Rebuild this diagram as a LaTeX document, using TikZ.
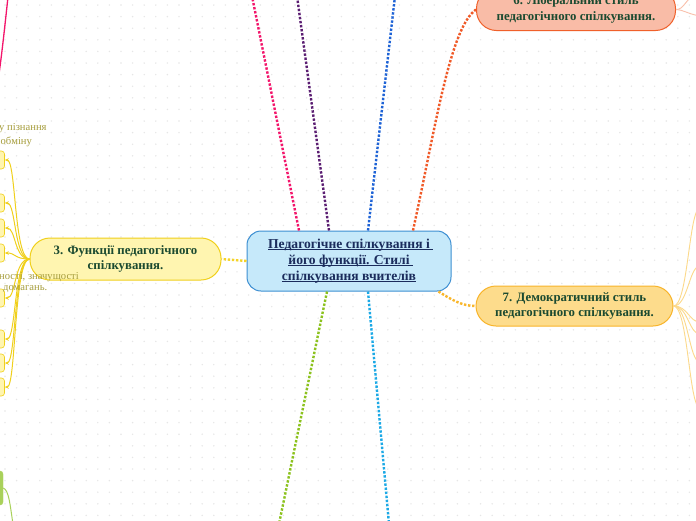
\documentclass[tikz,border=0pt]{standalone}
\usepackage{fontspec}
\setmainfont{Liberation Serif}
\usetikzlibrary{arrows.meta}
\newlength\myulw
\newcommand\myul[1]{\settowidth{\myulw}{#1}\rlap{\rule[-1.9pt]{\myulw}{0.9pt}}#1}
\definecolor{dotc}{HTML}{E6E6E6}
\definecolor{cFill}{HTML}{C6E9FA}
\definecolor{cBorder}{HTML}{3D8FD2}
\definecolor{cText}{HTML}{1B2C5C}
\definecolor{nText}{HTML}{1B4A30}
\definecolor{yFill}{HTML}{FFF5B0}
\definecolor{yBorder}{HTML}{F0D01C}
\definecolor{oFill}{HTML}{FDDC8C}
\definecolor{oBorder}{HTML}{F8B42A}
\definecolor{sFill}{HTML}{F9BCA7}
\definecolor{sBorder}{HTML}{F0602A}
\definecolor{cPink}{HTML}{F3156B}
\definecolor{cPurple}{HTML}{5B1E72}
\definecolor{cBlue}{HTML}{1E63D6}
\definecolor{cOrange}{HTML}{F05A28}
\definecolor{cYellow}{HTML}{F5D327}
\definecolor{cGold}{HTML}{F9B62A}
\definecolor{cGreen}{HTML}{8CC21E}
\definecolor{cLBlue}{HTML}{1CA9E6}
\definecolor{gFill}{HTML}{A9D15B}
\definecolor{lblc}{HTML}{A69D3C}
\definecolor{fanO}{HTML}{FCD98A}
\definecolor{fanS}{HTML}{F9C0AB}
\tikzset{
  mainbox/.style={draw=cBorder, fill=cFill, line width=1pt, rounded corners=14pt,
    minimum width=204pt, minimum height=60pt, inner sep=0pt, align=center,
    text=cText, font=\bfseries\fontsize{13.6}{16}\selectfont},
  topicbox/.style={line width=1pt, rounded corners=20pt, inner sep=0pt, align=center,
    text=nText, font=\bfseries\fontsize{12.8}{15.5}\selectfont},
  stubbox/.style={draw=yBorder, fill=yFill, line width=0.6pt, rounded corners=3pt,
    minimum width=17pt, minimum height=18pt, inner sep=0pt},
  dotline/.style={line width=2.4pt, dash pattern=on 2.4pt off 1.7pt},
  fanline/.style={draw=yBorder, line width=1pt, -{Stealth[length=4pt,width=3.5pt]}},
  lbl/.style={text=lblc, font=\fontsize{10.6}{12}\selectfont, inner sep=0pt, anchor=west},
}
\begin{document}
\begin{tikzpicture}[x=1pt,y=-1pt]
\useasboundingbox (0,0) rectangle (696,520);
\clip (0,0) rectangle (696,520);
\fill[white] (0,0) rectangle (696,520);
\foreach \i in {0,...,60}{\foreach \j in {0,...,45}{
  \fill[dotc] (5+11.6*\i, 5+11.6*\j) circle[radius=0.8pt];}}

% main nodes
\node[mainbox] (c) at (349,261) {\myul{Педагогічне спілкування і\ }\\ \myul{його функції. Стилі\ }\\ \myul{спілкування вчителів}};
\node[topicbox, draw=yBorder, fill=yFill, minimum width=191pt, minimum height=42pt] (n3) at (125.5,259) {3. Функції педагогічного\\спілкування.};
\node[topicbox, draw=oBorder, fill=oFill, minimum width=197pt, minimum height=40pt] (n7) at (574.5,306) {7. Демократичний стиль\\педагогічного спілкування.};
\node[topicbox, draw=sBorder, fill=sFill, minimum width=199pt, minimum height=42pt] (n6) at (576,9.5) {6. Ліберальний стиль\\педагогічного спілкування.};

% free ends
\coordinate (ePink) at (252,-4);
\coordinate (ePurple) at (297,-4);
\coordinate (eBlue) at (395,-4);
\coordinate (eGreen) at (279,524);
\coordinate (eLBlue) at (389,524);

% dotted connectors
\draw[dotline, cPink] ([xshift=-50pt]c.north) -- (ePink);
\draw[dotline, cPurple] ([xshift=-20pt]c.north) -- (ePurple);
\draw[dotline, cBlue] ([xshift=19pt]c.north) -- (eBlue);
\draw[dotline, cOrange] ([xshift=64pt]c.north) .. controls (436,125) and (450,28) .. (n6.west);
\draw[dotline, cYellow] (c.west) -- (n3.east);
\draw[dotline, cGold] ([xshift=-13pt]c.south east) .. controls (452,300) and (462,306) .. (n7.west);
\draw[dotline, cGreen] ([xshift=-22pt]c.south) -- (eGreen);
\draw[dotline, cLBlue] ([xshift=19pt]c.south) -- (eLBlue);

% left stubs of node 3
\foreach \n/\y in {b0/160, b1/203, b2/228, b3/253, b4/298, b5/339, b6/363, b7/387}{
  \node[stubbox] (\n) at (-4,\y) {};
  \draw[fanline] (n3.west) .. controls (14,259) and (16,\y) .. (\n.east);
}

% partial labels
\node[lbl] (t1) at (-1,128.5) {у пізнання};
\node[lbl] (t2) at (0.5,141.5) {обміну};
\node[lbl] (t3) at (-1,277.5) {ності, значущості};
\node[lbl] (t4) at (3,289) {домагань.};

% right fan of node 7
\foreach \k/\y in {r1/208, r2/266, r3/322, r4/334, r5/362, r6/408}{
  \coordinate (\k) at (700,\y);
  \draw[fanO, line width=0.9pt] (n7.east) .. controls (688,306) and (689,\y) .. (\k);
}
% right fan of node 6
\coordinate (s1) at (696,-6);
\coordinate (s2) at (700,16);
\draw[fanS, line width=0.9pt] (n6.east) .. controls (684,10) and (686,-2) .. (s1);
\draw[fanS, line width=0.9pt] (n6.east) .. controls (684,10) and (688,14) .. (s2);

% pink solid connector top-left
\coordinate (pk1) at (-1,74);
\coordinate (pk2) at (8,-3);
\draw[cPink, line width=1.3pt] (pk1) .. controls (3,45) and (6,15) .. (pk2);

% green stub bottom-left
\node[draw=gFill, fill=gFill, rounded corners=3pt, minimum width=16pt, minimum height=34pt, inner sep=0pt] (g1) at (-5,488) {};
\coordinate (g2) at (13,524);
\draw[gFill, line width=1pt] (g1.east) .. controls (9,490) and (10,505) .. (g2);
\end{tikzpicture}
\end{document}
